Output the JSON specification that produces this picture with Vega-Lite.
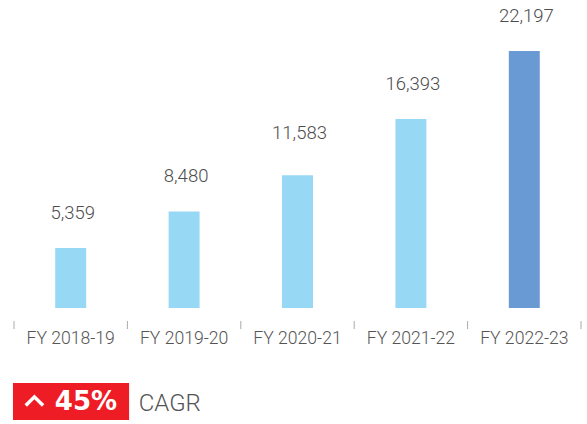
{"$schema":"https://vega.github.io/schema/vega-lite/v6.json","padding":{"left":12,"top":0,"right":0,"bottom":0},"autosize":{"type":"pad"},"background":"white","config":{"view":{"stroke":null},"concat":{"spacing":36}},"vconcat":[{"width":567,"height":308,"data":{"values":[{"fy":"FY 2018-19","v":5359,"latest":"no","label":"5,359"},{"fy":"FY 2019-20","v":8480,"latest":"no","label":"8,480"},{"fy":"FY 2020-21","v":11583,"latest":"no","label":"11,583"},{"fy":"FY 2021-22","v":16393,"latest":"no","label":"16,393"},{"fy":"FY 2022-23","v":22197,"latest":"yes","label":"22,197"}]},"encoding":{"x":{"field":"fy","type":"nominal","sort":null,"scale":{"paddingInner":0.727,"paddingOuter":0.3635},"axis":{"title":null,"domain":false,"labelAngle":0,"ticks":true,"tickSize":8,"tickOpacity":0,"offset":13,"labelFont":"Roboto","labelFontWeight":300,"labelFontSize":17.6,"labelColor":"#555555","labelPadding":0}},"y":{"field":"v","type":"quantitative","scale":{"domain":[231,26556],"zero":false},"axis":null}},"layer":[{"mark":{"type":"bar","clip":true},"encoding":{"color":{"field":"latest","type":"nominal","scale":{"domain":["no","yes"],"range":["#97D8F5","#6A9AD3"]},"legend":null}}},{"mark":{"type":"rule","xOffset":-56.7,"color":"#aaaaaa","strokeWidth":1},"encoding":{"y":{"datum":-880},"y2":{"datum":-1564}}},{"transform":[{"filter":"datum.latest == 'yes'"}],"mark":{"type":"rule","xOffset":56.7,"color":"#aaaaaa","strokeWidth":1},"encoding":{"y":{"datum":-880},"y2":{"datum":-1564}}},{"transform":[{"filter":"datum.v != 11583"}],"mark":{"type":"text","font":"Roboto","fontWeight":300,"fontSize":18.5,"color":"#4d4d4d","baseline":"middle","dx":2,"dy":-35},"encoding":{"text":{"field":"label"}}},{"transform":[{"filter":"datum.v == 11583"}],"mark":{"type":"text","font":"Roboto","fontWeight":300,"fontSize":18.5,"color":"#4d4d4d","baseline":"middle","dx":2,"dy":-42},"encoding":{"text":{"field":"label"}}}]},{"width":567,"height":37,"layer":[{"data":{"values":[{"a":-0.18,"b":20.3,"lo":0,"hi":1}]},"mark":{"type":"rect","color":"#EE1C25"},"encoding":{"x":{"field":"a","type":"quantitative","scale":{"domain":[0,100]},"axis":null},"x2":{"field":"b"},"y":{"field":"lo","type":"quantitative","scale":{"domain":[0,1]},"axis":null},"y2":{"field":"hi"}}},{"data":{"values":[{"a":3.6,"lo":0.52}]},"mark":{"type":"point","shape":"M-1,0.55L0,-0.45L1,0.55","filled":false,"stroke":"#ffffff","strokeWidth":3.5,"size":300,"opacity":1},"encoding":{"x":{"field":"a","type":"quantitative"},"y":{"field":"lo","type":"quantitative"}}},{"data":{"values":[{"a":7.2,"lo":0.5,"t":"45%"}]},"mark":{"type":"text","align":"left","baseline":"middle","font":"DejaVu Sans","fontWeight":700,"fontSize":26,"color":"#ffffff"},"encoding":{"x":{"field":"a","type":"quantitative"},"y":{"field":"lo","type":"quantitative"},"text":{"field":"t"}}},{"data":{"values":[{"a":22.0,"lo":0.42,"t":"CAGR"}]},"mark":{"type":"text","align":"left","baseline":"middle","font":"Roboto","fontWeight":300,"fontSize":24,"color":"#555555"},"encoding":{"x":{"field":"a","type":"quantitative"},"y":{"field":"lo","type":"quantitative"},"text":{"field":"t"}}}]}]}
